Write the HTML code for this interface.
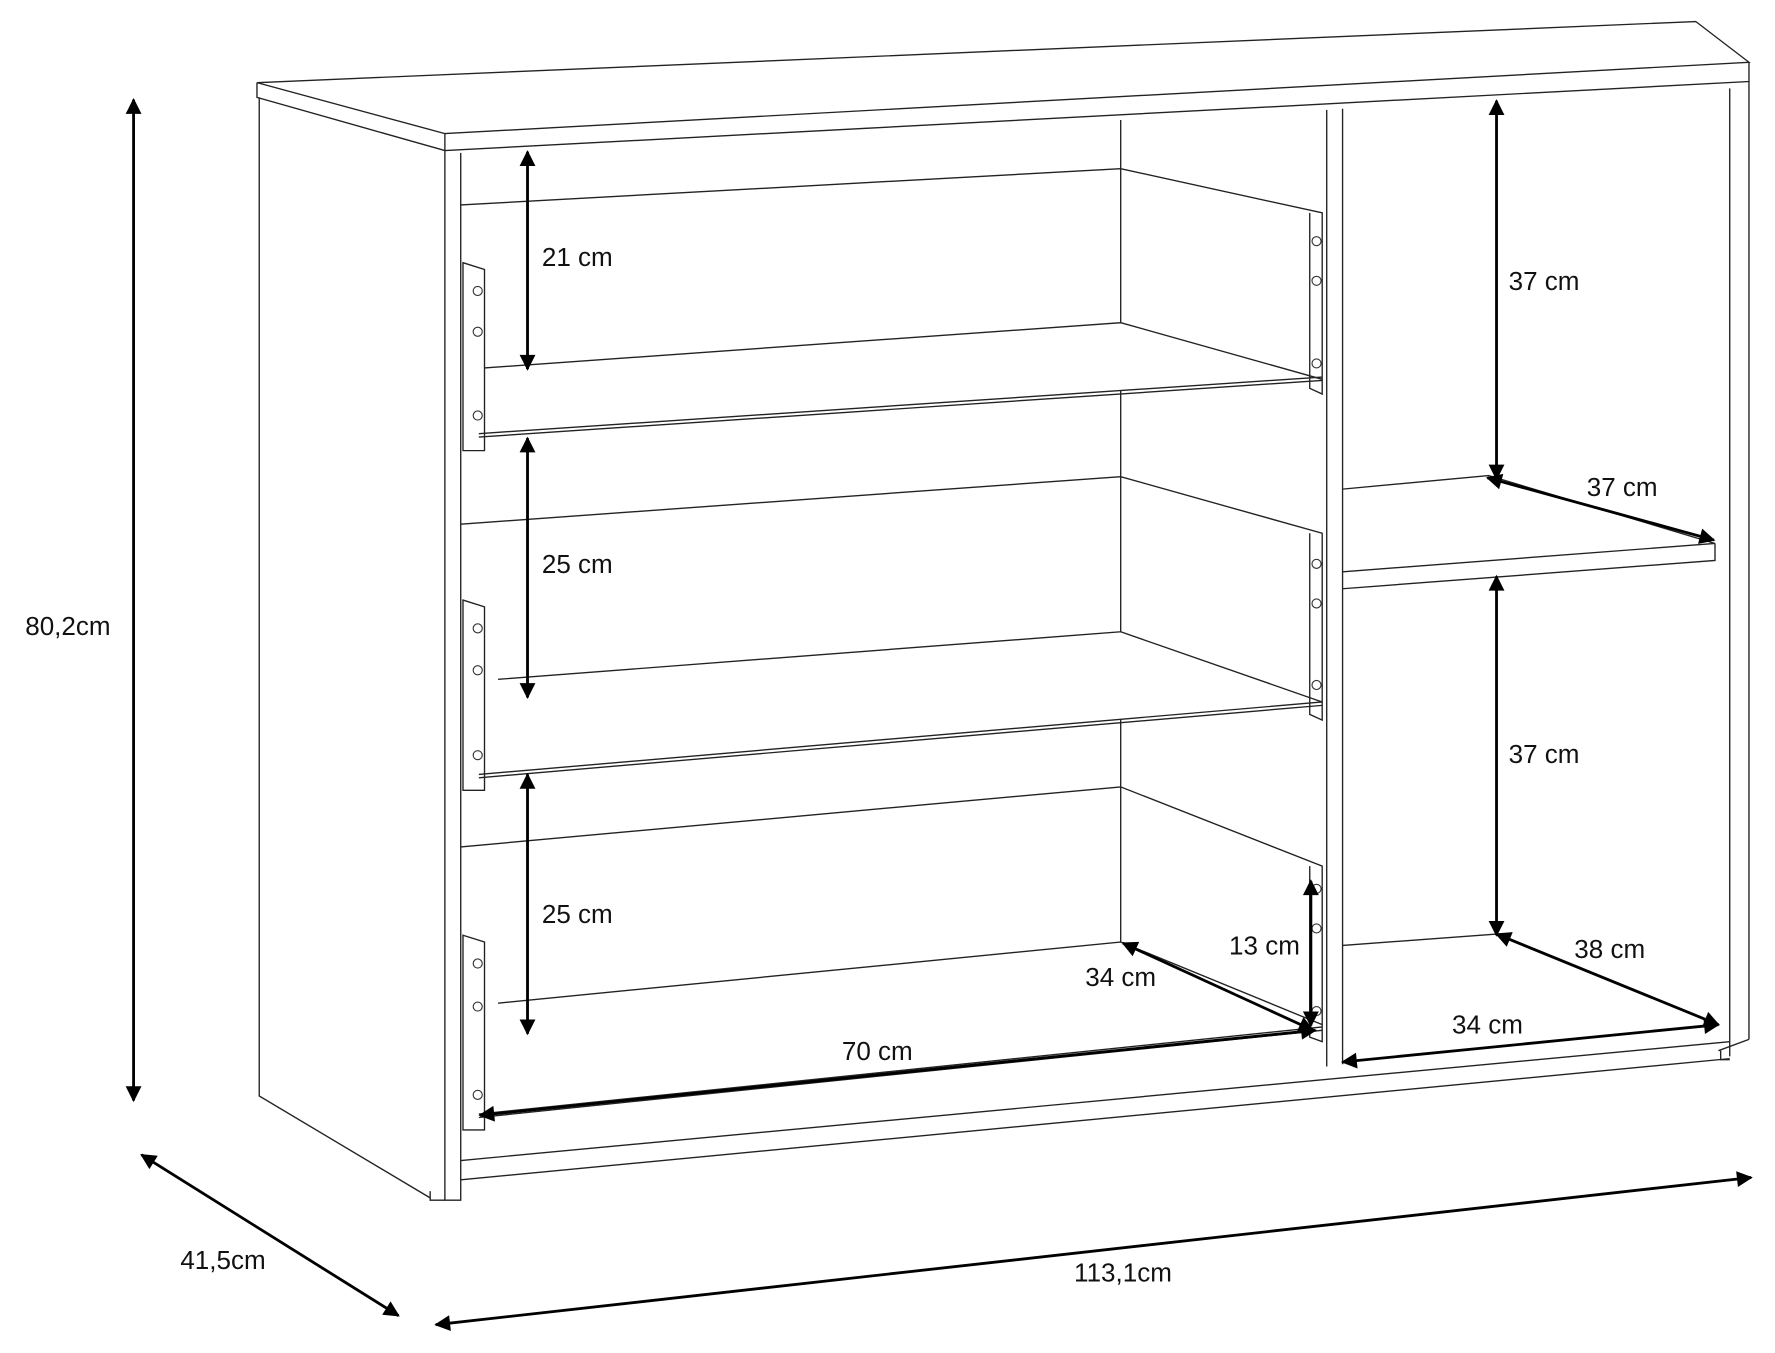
<!DOCTYPE html>
<html><head><meta charset="utf-8"><style>html,body{margin:0;padding:0;background:#fff}svg{display:block}text{font-family:"Liberation Sans",sans-serif;font-size:23px;fill:#111}</style></head>
<body>
<svg width="1775" height="1353" viewBox="0 0 1568 1195" preserveAspectRatio="none" xmlns="http://www.w3.org/2000/svg">
<defs>
<marker id="a" viewBox="0 0 10 10" refX="9" refY="5" markerWidth="7" markerHeight="7" orient="auto-start-reverse" markerUnits="userSpaceOnUse"><path d="M0,0 L10,5 L0,10 z" fill="#000"/></marker>
<marker id="b" viewBox="0 0 10 10" refX="9" refY="5" markerWidth="18" markerHeight="14" orient="auto-start-reverse" markerUnits="userSpaceOnUse"><path d="M0,0 L10,5 L0,10 z" fill="#000"/></marker>
</defs>
<g fill="none" stroke="#222" stroke-width="1.2">
<!-- top board -->
<path d="M227,73 L1498,19 L1545,55 L393,118 Z"/>
<path d="M227,73 L227,86 L393,133 L1545,72 L1545,55"/>
<path d="M393,118 L393,133"/>
<!-- left side -->
<path d="M229,86 L229,968 L380,1058"/>
<path d="M393,133 L393,1060 L407,1060 L407,135"/>
<path d="M380,1052 L380,1060 L393,1060"/>
<!-- right side -->
<path d="M1528,78 L1528,933 M1545,72 L1545,918"/>
<path d="M1518,928 L1545,918 M1520,928 L1520,936 L1528,936"/>
<!-- plinth -->
<path d="M407,1025 L1528,920 M407,1042 L1528,935"/>
<!-- middle divider -->
<path d="M1172,97 L1172,942 M1186,96 L1186,940"/>
<!-- back corner line -->
<path d="M990,106 L990,149 M990,345 L990,421 M990,635 L990,695"/>
<!-- drawer 1 -->
<path d="M407,181 L990,149 L1168,188 L1168,348 L1157,343 L1157,188"/>
<path d="M990,149 L990,285 L428,325 M990,285 L1168,335"/>
<path d="M423,383 L1168,333 M423,386 L1168,336"/>
<path d="M409,232 L428,238 L428,398 L409,398 Z"/>
<!-- drawer 2 -->
<path d="M407,463 L990,421 L1168,471 L1168,636 L1157,631 L1157,471"/>
<path d="M990,421 L990,558 L440,600 M990,558 L1168,620"/>
<path d="M423,684 L1168,620 M423,687 L1168,623"/>
<path d="M409,530 L428,536 L428,698 L409,698 Z"/>
<!-- drawer 3 -->
<path d="M407,748 L990,695 L1168,765 L1168,920 L1157,916 L1157,765"/>
<path d="M990,695 L990,832 L440,886 M990,832 L1168,905"/>
<path d="M423,984 L1168,907 M423,987 L1168,910"/>
<path d="M409,826 L428,832 L428,998 L409,998 Z"/>
<!-- right shelf -->
<path d="M1186,432 L1315,420 L1515,480 L1186,505"/>
<path d="M1515,480 L1515,495 L1186,520"/>
<path d="M1186,835 L1322,825 L1518,905"/>
</g>
<g fill="none" stroke="#333" stroke-width="1">
<circle cx="422" cy="257" r="4"/><circle cx="422" cy="293" r="4"/><circle cx="422" cy="367" r="4"/>
<circle cx="1163" cy="213" r="4"/><circle cx="1163" cy="248" r="4"/><circle cx="1163" cy="321" r="4"/>
<circle cx="422" cy="555" r="4"/><circle cx="422" cy="592" r="4"/><circle cx="422" cy="667" r="4"/>
<circle cx="1163" cy="498" r="4"/><circle cx="1163" cy="533" r="4"/><circle cx="1163" cy="605" r="4"/>
<circle cx="422" cy="851" r="4"/><circle cx="422" cy="889" r="4"/><circle cx="422" cy="967" r="4"/>
<circle cx="1163" cy="785" r="4"/><circle cx="1163" cy="820" r="4"/><circle cx="1163" cy="893" r="4"/>
</g>
<g stroke="#000" stroke-width="2.5" fill="none">
<line x1="118" y1="88" x2="118" y2="972" marker-start="url(#b)" marker-end="url(#b)"/>
<line x1="125" y1="1020" x2="352" y2="1162" marker-start="url(#b)" marker-end="url(#b)"/>
<line x1="385" y1="1170" x2="1547" y2="1040" marker-start="url(#b)" marker-end="url(#b)"/>
<line x1="466" y1="134" x2="466" y2="326" marker-start="url(#b)" marker-end="url(#b)"/>
<line x1="466" y1="387" x2="466" y2="616" marker-start="url(#b)" marker-end="url(#b)"/>
<line x1="466" y1="684" x2="466" y2="913" marker-start="url(#b)" marker-end="url(#b)"/>
<line x1="1322" y1="89" x2="1322" y2="423" marker-start="url(#b)" marker-end="url(#b)"/>
<line x1="1314" y1="422" x2="1514" y2="477" marker-start="url(#b)" marker-end="url(#b)"/>
<line x1="1322" y1="509" x2="1322" y2="826" marker-start="url(#b)" marker-end="url(#b)"/>
<line x1="1322" y1="825" x2="1518" y2="905" marker-start="url(#b)" marker-end="url(#b)"/>
<line x1="1186" y1="938" x2="1518" y2="905" marker-start="url(#b)" marker-end="url(#b)"/>
<line x1="424" y1="985" x2="1162" y2="910" marker-start="url(#b)" marker-end="url(#b)"/>
<line x1="992" y1="833" x2="1160" y2="910" marker-start="url(#b)" marker-end="url(#b)"/>
<line x1="1158" y1="778" x2="1158" y2="906" marker-start="url(#b)" marker-end="url(#b)"/>
</g>
<text x="60" y="561" text-anchor="middle">80,2cm</text>
<text x="197" y="1121" text-anchor="middle">41,5cm</text>
<text x="992" y="1132" text-anchor="middle">113,1cm</text>
<text x="510" y="235" text-anchor="middle">21 cm</text>
<text x="510" y="506" text-anchor="middle">25 cm</text>
<text x="510" y="815" text-anchor="middle">25 cm</text>
<text x="1364" y="256" text-anchor="middle">37 cm</text>
<text x="1433" y="438" text-anchor="middle">37 cm</text>
<text x="1364" y="674" text-anchor="middle">37 cm</text>
<text x="1422" y="846" text-anchor="middle">38 cm</text>
<text x="1314" y="913" text-anchor="middle">34 cm</text>
<text x="775" y="936" text-anchor="middle">70 cm</text>
<text x="990" y="871" text-anchor="middle">34 cm</text>
<text x="1117" y="843" text-anchor="middle">13 cm</text>
</svg>
</body></html>
